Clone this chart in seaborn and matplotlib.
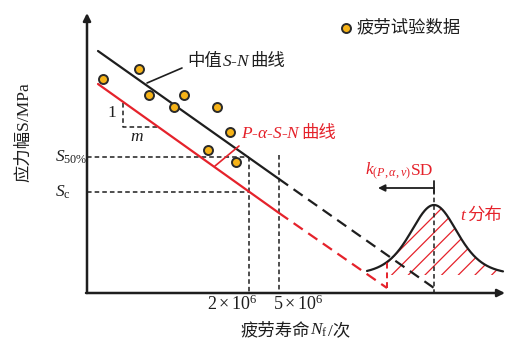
import numpy as np
import matplotlib
matplotlib.use("Agg")
import matplotlib.pyplot as plt
import seaborn as sns

sns.set_style("white")
plt.rcParams["font.family"] = ["Liberation Serif", "Noto Sans CJK SC"]
plt.rcParams["mathtext.fontset"] = "custom"
plt.rcParams["mathtext.rm"] = "Liberation Serif"
plt.rcParams["mathtext.it"] = "Liberation Serif:italic"
plt.rcParams["hatch.linewidth"] = 0.9

RED = "#E5222B"
INK = "#1E1E1E"
DOT_FILL = "#F6B318"

# Schematic S-N plane (horizontal: log life, vertical: stress, downwards positive)
fatigue_x = [103, 139, 149, 174, 184, 217, 230, 208, 236]
fatigue_y = [79, 69, 95, 107, 95, 107, 132, 150, 162]

median_x = [98, 279, 434]          # start, end of test range, extrapolated end
median_y = [51, 179, 288]
pasn_x = [98, 279, 387]
pasn_y = [84, 213, 288]

origin = (87, 293)
axis_top = 13
axis_right = 505
n_2e6, n_5e6 = 249, 279
s50_level, sc_level = 157, 192

t_center, t_peak, t_base = 434, 205, 275
t_left, t_right, t_cut = 367, 503, 387
t_dof, t_scale = 6, 24.4

fig = plt.figure(figsize=(5.07, 3.38), dpi=100)
ax = fig.add_axes([0, 0, 1, 1])
ax.set_xlim(0, 507)
ax.set_ylim(338, 0)
ax.axis("off")
renderer = fig.canvas.get_renderer()


def rich(x, y, parts, fontsize=12, ha="left"):
    """Write text pieces (mathtext and CJK) one after another on a baseline."""
    texts = [ax.text(0, y, s, fontsize=fontsize, color=c, ha="left", va="baseline")
             for s, c in parts]
    widths = [t.get_window_extent(renderer=renderer).width for t in texts]
    if ha == "center":
        x -= sum(widths) / 2
    for t, w in zip(texts, widths):
        t.set_x(x)
        x += w


# axes with arrow heads
arrow = dict(arrowstyle="-|>", lw=1.8, color=INK, mutation_scale=11, shrinkA=0, shrinkB=0)
ax.annotate("", xy=(origin[0], axis_top), xytext=origin, arrowprops=arrow)
ax.annotate("", xy=(axis_right, origin[1]), xytext=(origin[0] - 1, origin[1]), arrowprops=arrow)

# reference (dotted) lines
fine = dict(color=INK, lw=1.1, ls=(0, (3, 2)))
ax.plot([origin[0], n_2e6], [s50_level, s50_level], **fine)
ax.plot([origin[0], n_2e6], [sc_level, sc_level], **fine)
ax.plot([n_2e6, n_2e6], [s50_level, origin[1]], **fine)
ax.plot([n_5e6, n_5e6], [s50_level - 2, origin[1]], **fine)

# slope triangle
ax.plot([123, 123, 157], [103, 127, 127], **fine)
ax.text(112, 113, "1", fontsize=12.5, ha="center", va="center", color=INK)
ax.text(137, 137, "$m$", fontsize=12.5, ha="center", va="center", color=INK)

# median S-N curve: solid in test range, dashed when extrapolated
sns.lineplot(x=median_x[:2], y=median_y[:2], ax=ax, color=INK, lw=1.6, sort=False)
ax.plot(median_x[1:], median_y[1:], color=INK, lw=1.6, ls=(0, (5, 3)))
# P-alpha-S-N curve
sns.lineplot(x=pasn_x[:2], y=pasn_y[:2], ax=ax, color=RED, lw=1.6, sort=False)
ax.plot(pasn_x[1:], pasn_y[1:], color=RED, lw=1.6, ls=(0, (5, 3)))

# t distribution
xs = np.linspace(t_left, t_right, 300)
u = (xs - t_center) / t_scale
pdf = (1 + u ** 2 / t_dof) ** (-(t_dof + 1) / 2)
ys = t_base - (t_base - t_peak) * pdf
mask = xs >= t_cut
ax.fill_between(xs[mask], ys[mask], t_base, facecolor="none", edgecolor=RED,
                hatch="//", lw=0)
ax.plot(xs, ys, color=INK, lw=1.6)
cut_y = t_base - (t_base - t_peak) * (1 + ((t_cut - t_center) / t_scale) ** 2 / t_dof) ** (-(t_dof + 1) / 2)
ax.plot([t_cut, t_cut], [pasn_y[-1], cut_y], color=RED, lw=1.4, ls=(0, (3, 2)))

# centre of the distribution and the k*SD offset
ax.plot([t_center, t_center], [190, origin[1]], color=INK, lw=1.1, ls=(0, (3, 2)))
ax.plot([t_center, t_center], [181, 193], color=INK, lw=1.3)
ax.annotate("", xy=(378, 188), xytext=(t_center, 188),
            arrowprops=dict(arrowstyle="-|>", lw=1.3, color=INK, mutation_scale=10,
                            shrinkA=0, shrinkB=0))
rich(365, 175, [(r"$k_{(P,\alpha,\nu)}$", RED), ("SD", RED)], fontsize=12.5)
rich(460, 220, [("$t$", RED), ("分布", RED)], fontsize=12.5)

# test data
sns.scatterplot(x=fatigue_x, y=fatigue_y, ax=ax, s=42, color=DOT_FILL,
                edgecolor="#2A2A2A", linewidth=1.4, zorder=5)
sns.scatterplot(x=[346], y=[28], ax=ax, s=42, color=DOT_FILL,
                edgecolor="#2A2A2A", linewidth=1.4, zorder=5)
ax.text(357, 28, "疲劳试验数据", fontsize=12.5, color=INK, ha="left", va="center")

# curve labels with leaders
ax.plot([147, 182], [83, 68], color=INK, lw=1.2)
rich(187, 66, [("中值", INK), ("$S$-$N$", INK), ("曲线", INK)], fontsize=12.5)
ax.plot([215, 239], [166, 146], color=RED, lw=1.2)
rich(241, 138, [(r"$P$-$\alpha$-$S$-$N$", RED), ("曲线", RED)], fontsize=12.5)

# level labels
ax.text(55, s50_level, r"$S_{50\%}$", fontsize=12.5, color=INK, ha="left", va="center")
ax.text(55, sc_level, r"$S_{\rm c}$", fontsize=12.5, color=INK, ha="left", va="center")

# tick labels and axis titles
ax.text(232, 304, r"$2\times10^6$", fontsize=13, color=INK, ha="center", va="center")
ax.text(298, 304, r"$5\times10^6$", fontsize=13, color=INK, ha="center", va="center")
rich(295, 335, [("疲劳寿命", INK), (r"$N_{\rm f}$", INK), ("/次", INK)], fontsize=12.5, ha="center")
ax.text(24, 132, "应力幅S/MPa", fontsize=12.5, color=INK, ha="center", va="center", rotation=90)

fig.savefig("out.png", dpi=100)
